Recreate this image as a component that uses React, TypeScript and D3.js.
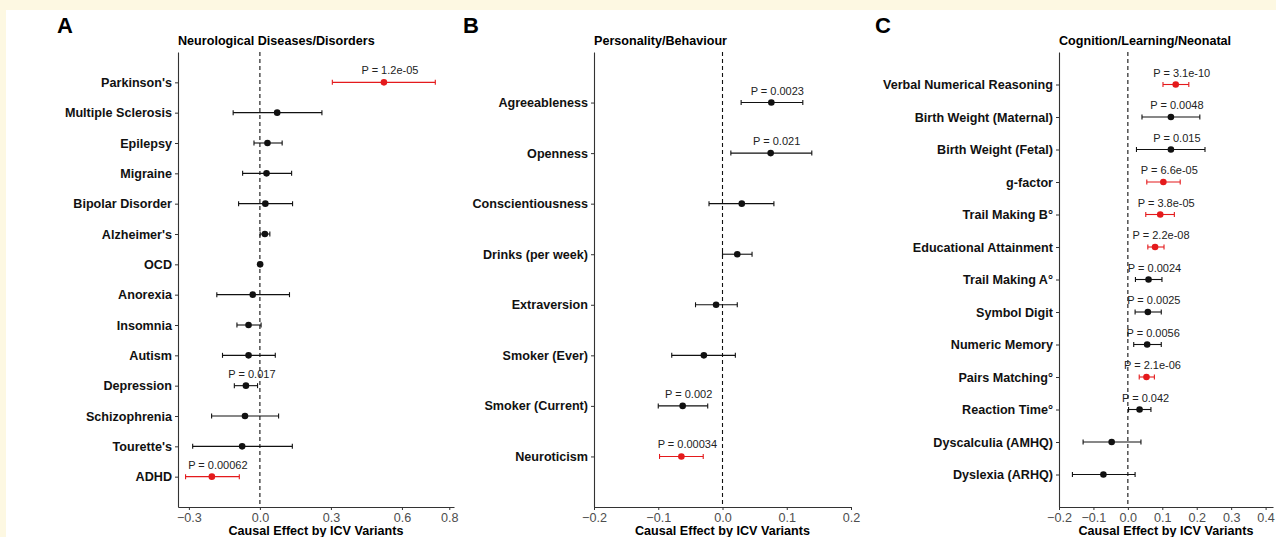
import React, { useEffect, useRef } from "react";
import * as d3 from "d3";

// ---- Panel A: Neurological Diseases/Disorders
const neuroTraits = ["Parkinson's", "Multiple Sclerosis", "Epilepsy", "Migraine", "Bipolar Disorder", "Alzheimer's", "OCD", "Anorexia", "Insomnia", "Autism", "Depression", "Schizophrenia", "Tourette's", "ADHD"];
const neuroEst = [0.524, 0.073, 0.032, 0.028, 0.023, 0.021, 0.001, -0.03, -0.048, -0.048, -0.059, -0.063, -0.075, -0.203];
const neuroLo = [0.306, -0.113, -0.025, -0.073, -0.09, 0.001, -0.004, -0.182, -0.097, -0.158, -0.108, -0.204, -0.284, -0.314];
const neuroHi = [0.741, 0.262, 0.094, 0.134, 0.138, 0.042, 0.006, 0.125, 0.005, 0.065, -0.01, 0.079, 0.137, -0.087];
const neuroP = ["P = 1.2e-05", "", "", "", "", "", "", "", "", "", "P = 0.017", "", "", "P = 0.00062"];
const neuroSig = [true, false, false, false, false, false, false, false, false, false, false, false, false, true];

// ---- Panel B: Personality/Behaviour
const persTraits = ["Agreeableness", "Openness", "Conscientiousness", "Drinks (per week)", "Extraversion", "Smoker (Ever)", "Smoker (Current)", "Neuroticism"];
const persEst = [0.076, 0.075, 0.03, 0.023, -0.01, -0.029, -0.062, -0.064];
const persLo = [0.029, 0.013, -0.021, 0.0, -0.042, -0.079, -0.1, -0.098];
const persHi = [0.125, 0.139, 0.08, 0.046, 0.023, 0.02, -0.023, -0.03];
const persP = ["P = 0.0023", "P = 0.021", "", "", "", "", "P = 0.002", "P = 0.00034"];
const persSig = [false, false, false, false, false, false, false, true];

// ---- Panel C: Cognition/Learning/Neonatal
const cogTraits = ["Verbal Numerical Reasoning", "Birth Weight (Maternal)", "Birth Weight (Fetal)", "g-factor", "Trail Making B°", "Educational Attainment", "Trail Making A°", "Symbol Digit", "Numeric Memory", "Pairs Matching°", "Reaction Time°", "Dyscalculia (AMHQ)", "Dyslexia (ARHQ)"];
const cogEst = [0.139, 0.125, 0.125, 0.103, 0.094, 0.079, 0.06, 0.058, 0.056, 0.054, 0.034, -0.047, -0.071];
const cogLo = [0.102, 0.041, 0.025, 0.055, 0.052, 0.058, 0.022, 0.021, 0.017, 0.033, 0.002, -0.13, -0.161];
const cogHi = [0.177, 0.209, 0.224, 0.152, 0.135, 0.105, 0.099, 0.097, 0.097, 0.077, 0.067, 0.038, 0.021];
const cogP = ["P = 3.1e-10", "P = 0.0048", "P = 0.015", "P = 6.6e-05", "P = 3.8e-05", "P = 2.2e-08", "P = 0.0024", "P = 0.0025", "P = 0.0056", "P = 2.1e-06", "P = 0.042", "", ""];
const cogSig = [true, false, false, true, true, true, false, false, false, true, false, false, false];

const ticksA = [-0.3, 0, 0.3, 0.6, 0.8];
const ticksB = [-0.2, -0.1, 0, 0.1, 0.2];
const ticksC = [-0.2, -0.1, 0, 0.1, 0.2, 0.3, 0.4];

const FONT = "'Liberation Sans', Arial, Helvetica, sans-serif";
const RED = "#e41a1c";
const TOP = 52;
const BOTTOM = 507;

function drawPanel(svg, opt) {
  const { letter, letterX, title, left, right, domain, ticks, traits, est, lo, hi, pl, sig } = opt;
  const g = svg.append("g");

  const x = d3.scaleLinear().domain(domain).range([left, right]);
  const y = d3.scalePoint().domain(traits).range([TOP, BOTTOM]).padding(1);

  // panel letter + title
  g.append("text").attr("x", letterX).attr("y", 33).text(letter)
    .attr("font-family", FONT).attr("font-weight", "bold").attr("font-size", 22);
  g.append("text").attr("x", left).attr("y", 45).text(title)
    .attr("font-family", FONT).attr("font-weight", "bold").attr("font-size", 12.6);

  // zero reference
  g.append("line").attr("x1", x(0)).attr("x2", x(0)).attr("y1", TOP).attr("y2", BOTTOM)
    .attr("stroke", "#111").attr("stroke-width", 1.1).attr("stroke-dasharray", "4,3");

  // axes
  const xAxis = g.append("g").attr("transform", `translate(0,${BOTTOM})`)
    .call(d3.axisBottom(x).tickValues(ticks).tickFormat(d3.format(".1f")).tickSize(3).tickSizeOuter(0).tickPadding(3));
  xAxis.select(".domain").attr("stroke", "#333").attr("stroke-width", 1.1);
  xAxis.selectAll(".tick line").attr("stroke", "#333");
  xAxis.selectAll(".tick text").attr("fill", "#4d4d4d").attr("font-size", 12.6).attr("font-family", FONT);

  const yAxis = g.append("g").attr("transform", `translate(${left},0)`)
    .call(d3.axisLeft(y).tickSize(3).tickSizeOuter(0).tickPadding(3));
  yAxis.select(".domain").attr("stroke", "#333").attr("stroke-width", 1.1);
  yAxis.selectAll(".tick line").attr("stroke", "#333");
  yAxis.selectAll(".tick text").attr("fill", "#111").attr("font-size", 12.6)
    .attr("font-weight", "bold").attr("font-family", FONT);

  g.append("text").attr("x", (left + right) / 2).attr("y", 535).attr("text-anchor", "middle")
    .text("Causal Effect by ICV Variants")
    .attr("font-family", FONT).attr("font-weight", "bold").attr("font-size", 12.6);

  // error bars
  traits.forEach((t, i) => {
    const col = sig[i] ? RED : "#111";
    const cy = y(t);
    g.append("line").attr("x1", x(lo[i])).attr("x2", x(hi[i])).attr("y1", cy).attr("y2", cy)
      .attr("stroke", col).attr("stroke-width", 1.1);
    [lo[i], hi[i]].forEach(v => {
      g.append("line").attr("x1", x(v)).attr("x2", x(v)).attr("y1", cy - 2.5).attr("y2", cy + 2.5)
        .attr("stroke", col).attr("stroke-width", 1.1);
    });
    g.append("circle").attr("cx", x(est[i])).attr("cy", cy).attr("r", 3.3).attr("fill", col);
    if (pl[i]) {
      g.append("text").attr("x", x(est[i]) + 6).attr("y", cy - 8).attr("text-anchor", "middle")
        .text(pl[i]).attr("fill", "#222").attr("font-size", 11).attr("font-family", FONT);
    }
  });
}

export default function App() {
  const svgRef = useRef(null);

  useEffect(() => {
    const svg = d3.select(svgRef.current);
    svg.selectAll("*").remove();

    svg.append("rect").attr("width", 1276).attr("height", 537).attr("fill", "#fdf8e2");
    svg.append("rect").attr("x", 6).attr("y", 10).attr("width", 1270).attr("height", 527).attr("fill", "#fff");

    drawPanel(svg, {
      letter: "A", letterX: 57, title: "Neurological Diseases/Disorders",
      left: 178, right: 454, domain: [-0.346, 0.82], ticks: ticksA,
      traits: neuroTraits, est: neuroEst, lo: neuroLo, hi: neuroHi, pl: neuroP, sig: neuroSig,
    });
    drawPanel(svg, {
      letter: "B", letterX: 463, title: "Personality/Behaviour",
      left: 594, right: 851, domain: [-0.2, 0.2], ticks: ticksB,
      traits: persTraits, est: persEst, lo: persLo, hi: persHi, pl: persP, sig: persSig,
    });
    drawPanel(svg, {
      letter: "C", letterX: 875, title: "Cognition/Learning/Neonatal",
      left: 1059, right: 1273, domain: [-0.2, 0.4215], ticks: ticksC,
      traits: cogTraits, est: cogEst, lo: cogLo, hi: cogHi, pl: cogP, sig: cogSig,
    });
  }, []);

  return (
    <svg ref={svgRef} width={1276} height={537}
      style={{ position: "absolute", left: 0, top: 0, display: "block" }} />
  );
}
